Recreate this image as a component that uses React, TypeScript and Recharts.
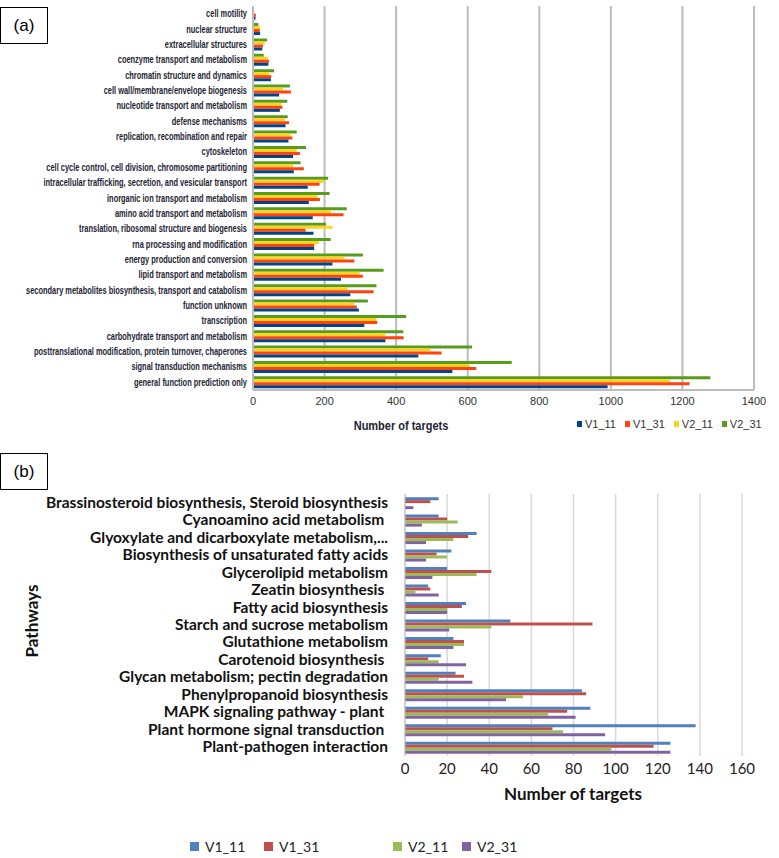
import { BarChart, Bar, XAxis, YAxis, CartesianGrid } from 'recharts'

// Panel (a): COG functional categories, listed top to bottom
const cogCategories = [
  'cell motility',
  'nuclear structure',
  'extracellular structures',
  'coenzyme transport and metabolism',
  'chromatin structure and dynamics',
  'cell wall/membrane/envelope biogenesis',
  'nucleotide transport and metabolism',
  'defense mechanisms',
  'replication, recombination and repair',
  'cytoskeleton',
  'cell cycle control, cell division, chromosome partitioning',
  'intracellular trafficking, secretion, and vesicular transport',
  'inorganic ion transport and metabolism',
  'amino acid transport and metabolism',
  'translation, ribosomal structure and biogenesis',
  'rna processing and modification',
  'energy production and conversion',
  'lipid transport and metabolism',
  'secondary metabolites biosynthesis, transport and catabolism',
  'function unknown',
  'transcription',
  'carbohydrate transport and metabolism',
  'posttranslational modification, protein turnover, chaperones',
  'signal transduction mechanisms',
  'general function prediction only',
]
const cogV1_11 = [7, 20, 26, 43, 50, 73, 75, 91, 99, 112, 114, 153, 156, 167, 169, 171, 222, 246, 272, 296, 311, 370, 462, 557, 991]
const cogV1_31 = [8, 19, 28, 45, 51, 106, 82, 101, 110, 131, 142, 186, 187, 253, 147, 171, 283, 307, 337, 290, 347, 421, 527, 624, 1220]
const cogV2_11 = [3, 20, 33, 42, 45, 84, 80, 89, 105, 122, 112, 199, 180, 218, 222, 184, 256, 298, 264, 283, 345, 370, 495, 605, 1165]
const cogV2_31 = [3, 15, 39, 30, 59, 103, 96, 97, 122, 148, 133, 210, 214, 262, 204, 217, 307, 365, 345, 321, 428, 420, 612, 723, 1278]
const cogTicks = [0, 200, 400, 600, 800, 1000, 1200, 1400]

// Panel (b): KEGG pathways, listed top to bottom
const pathways = [
  'Brassinosteroid biosynthesis, Steroid biosynthesis',
  'Cyanoamino acid metabolism ',
  'Glyoxylate and dicarboxylate metabolism,...',
  'Biosynthesis of unsaturated fatty acids',
  'Glycerolipid metabolism',
  'Zeatin biosynthesis ',
  'Fatty acid biosynthesis',
  'Starch and sucrose metabolism',
  'Glutathione metabolism',
  'Carotenoid biosynthesis ',
  'Glycan metabolism; pectin degradation',
  'Phenylpropanoid biosynthesis',
  'MAPK signaling pathway - plant ',
  'Plant hormone signal transduction ',
  'Plant-pathogen interaction',
]
const keggV1_11 = [16, 16, 34, 22, 20, 11, 29, 50, 23, 17, 24, 84, 88, 138, 126]
const keggV1_31 = [12, 20, 30, 15, 41, 12, 27, 89, 28, 11, 28, 86, 77, 70, 118]
const keggV2_11 = [0, 25, 23, 20, 34, 5, 20, 41, 28, 16, 16, 56, 68, 75, 98]
const keggV2_31 = [4, 8, 10, 10, 13, 16, 20, 21, 23, 29, 32, 48, 81, 95, 126]
const keggTicks = [0, 20, 40, 60, 80, 100, 120, 140, 160]

const seriesNames = ['V1_11', 'V1_31', 'V2_11', 'V2_31']
const colorsA = ['#004586', '#ff420e', '#ffd320', '#579d1c']
const colorsB = ['#4f81bd', '#c0504d', '#9bbb59', '#8064a2']

const cogData = cogCategories.map((name, i) => ({
  name, V1_11: cogV1_11[i], V1_31: cogV1_31[i], V2_11: cogV2_11[i], V2_31: cogV2_31[i],
}))
const keggData = pathways.map((name, i) => ({
  name, V1_11: keggV1_11[i], V1_31: keggV1_31[i], V2_11: keggV2_11[i], V2_31: keggV2_31[i],
}))

const sansA = '"Liberation Sans", Arial, sans-serif'
const calibriLike = 'Lato, "Open Sans", sans-serif'

// the (a) labels are set in a condensed face: squeeze a regular bold face to match
const COG_FONT_SIZE = 10
let cogSqueeze = 0.66
try {
  const ctx = document.createElement('canvas').getContext('2d')
  if (ctx) {
    ctx.font = `bold ${COG_FONT_SIZE}px "Liberation Sans"`
    const w = ctx.measureText('intracellular trafficking, secretion, and vesicular transport').width
    if (w > 0) cogSqueeze = 204 / w
  }
} catch (e) {
  // keep default
}

function CogTick(props: any) {
  const { x, y, payload } = props
  return (
    <text transform={`translate(${x},${y + 3.5}) scale(${cogSqueeze},1)`} x={0} y={0} textAnchor="end"
      fontFamily={sansA} fontWeight={700} fontSize={COG_FONT_SIZE} fill="#1c2433">
      {payload.value}
    </text>
  )
}

function KeggTick(props: any) {
  const { x, y, payload } = props
  return (
    <text x={x} y={y} dy={5} textAnchor="end" fontFamily={calibriLike} fontWeight={700} fontSize={15.5} fill="#111" style={{ whiteSpace: 'pre' }}>
      {payload.value}
    </text>
  )
}

function PanelBox({ label, top }: { label: string; top: number }) {
  return (
    <div style={{
      position: 'absolute', left: 0, top, width: 46, height: 35, border: '1px solid #000',
      fontFamily: sansA, fontSize: 17, display: 'flex',
      alignItems: 'center', justifyContent: 'center', background: '#fff',
    }}>{label}</div>
  )
}

export default function App() {
  return (
    <div style={{ position: 'absolute', left: 0, top: 0, width: 779, height: 858, background: '#fff', overflow: 'hidden' }}>
      {/* panel (a) */}
      <div style={{ position: 'absolute', left: 0, top: 0 }}>
        <BarChart width={779} height={414} data={cogData} layout="vertical"
          margin={{ top: 6, right: 25, left: 0, bottom: 0 }} barCategoryGap="11%" barGap={0}>
          <CartesianGrid horizontal={false} stroke="#bcbcbc" strokeWidth={2} />
          <XAxis type="number" domain={[0, 1400]} ticks={cogTicks} height={24}
            tick={{ fontSize: 11, fill: '#333', fontFamily: sansA }}
            tickLine={false} tickSize={0} tickMargin={7} axisLine={{ stroke: '#bcbcbc', strokeWidth: 2 }} />
          <YAxis type="category" dataKey="name" width={253} tick={<CogTick />} interval={0}
            tickLine={false} tickSize={0} tickMargin={6} axisLine={{ stroke: '#bcbcbc', strokeWidth: 2 }} />
          {[3, 2, 1, 0].map((k) => (
            <Bar key={seriesNames[k]} dataKey={seriesNames[k]} fill={colorsA[k]} isAnimationActive={false} />
          ))}
        </BarChart>
      </div>
      <PanelBox label="(a)" top={7} />
      <div style={{
        position: 'absolute', left: 401, top: 425, transform: `translate(-50%, -50%) scale(${cogSqueeze + 0.1},1)`,
        fontFamily: sansA, fontWeight: 700, fontSize: 13, color: '#1c2433', whiteSpace: 'nowrap',
      }}>
        Number of targets
      </div>
      <div style={{ position: 'absolute', left: 577, top: 418, display: 'flex', gap: 9, fontFamily: sansA, fontSize: 11, color: '#333' }}>
        {seriesNames.map((s, k) => (
          <div key={s} style={{ display: 'flex', alignItems: 'center', gap: 3 }}>
            <span style={{ width: 5, height: 6, background: colorsA[k], display: 'inline-block' }} />
            <span>{s}</span>
          </div>
        ))}
      </div>

      {/* panel (b) */}
      <PanelBox label="(b)" top={453} />
      <div style={{ position: 'absolute', left: 0, top: 480 }}>
        <BarChart width={779} height={306} data={keggData} layout="vertical"
          margin={{ top: 14, right: 37, left: 0, bottom: 0 }} barCategoryGap="18%" barGap={0}>
          <CartesianGrid horizontal={false} stroke="#d9d9d9" strokeWidth={1.5} />
          <XAxis type="number" domain={[0, 160]} ticks={keggTicks} height={30}
            tick={{ fontSize: 15, fill: '#222', fontFamily: calibriLike }}
            tickLine={false} tickSize={0} tickMargin={7} axisLine={false} />
          <YAxis type="category" dataKey="name" width={405} tick={<KeggTick />} interval={0}
            tickLine={false} tickSize={0} tickMargin={17} axisLine={{ stroke: '#bfbfbf' }} />
          {seriesNames.map((s, k) => (
            <Bar key={s} dataKey={s} fill={colorsB[k]} isAnimationActive={false} />
          ))}
        </BarChart>
      </div>
      <div style={{
        position: 'absolute', left: 31, top: 621, transform: 'translate(-50%, -50%) rotate(-90deg)',
        fontFamily: calibriLike, fontWeight: 700, fontSize: 17, color: '#111', whiteSpace: 'nowrap',
      }}>Pathways</div>
      <div style={{
        position: 'absolute', left: 573, top: 793, transform: 'translate(-50%, -50%)',
        fontFamily: calibriLike, fontWeight: 700, fontSize: 17, color: '#111', whiteSpace: 'nowrap',
      }}>Number of targets</div>
      {seriesNames.map((s, k) => (
        <div key={s} style={{
          position: 'absolute', left: [190, 264, 393, 462][k], top: 838, display: 'flex', alignItems: 'center', gap: 6,
          fontFamily: calibriLike, fontSize: 14, color: '#222',
        }}>
          <span style={{ width: 9, height: 9, background: colorsB[k], display: 'inline-block' }} />
          <span>{s}</span>
        </div>
      ))}
    </div>
  )
}
